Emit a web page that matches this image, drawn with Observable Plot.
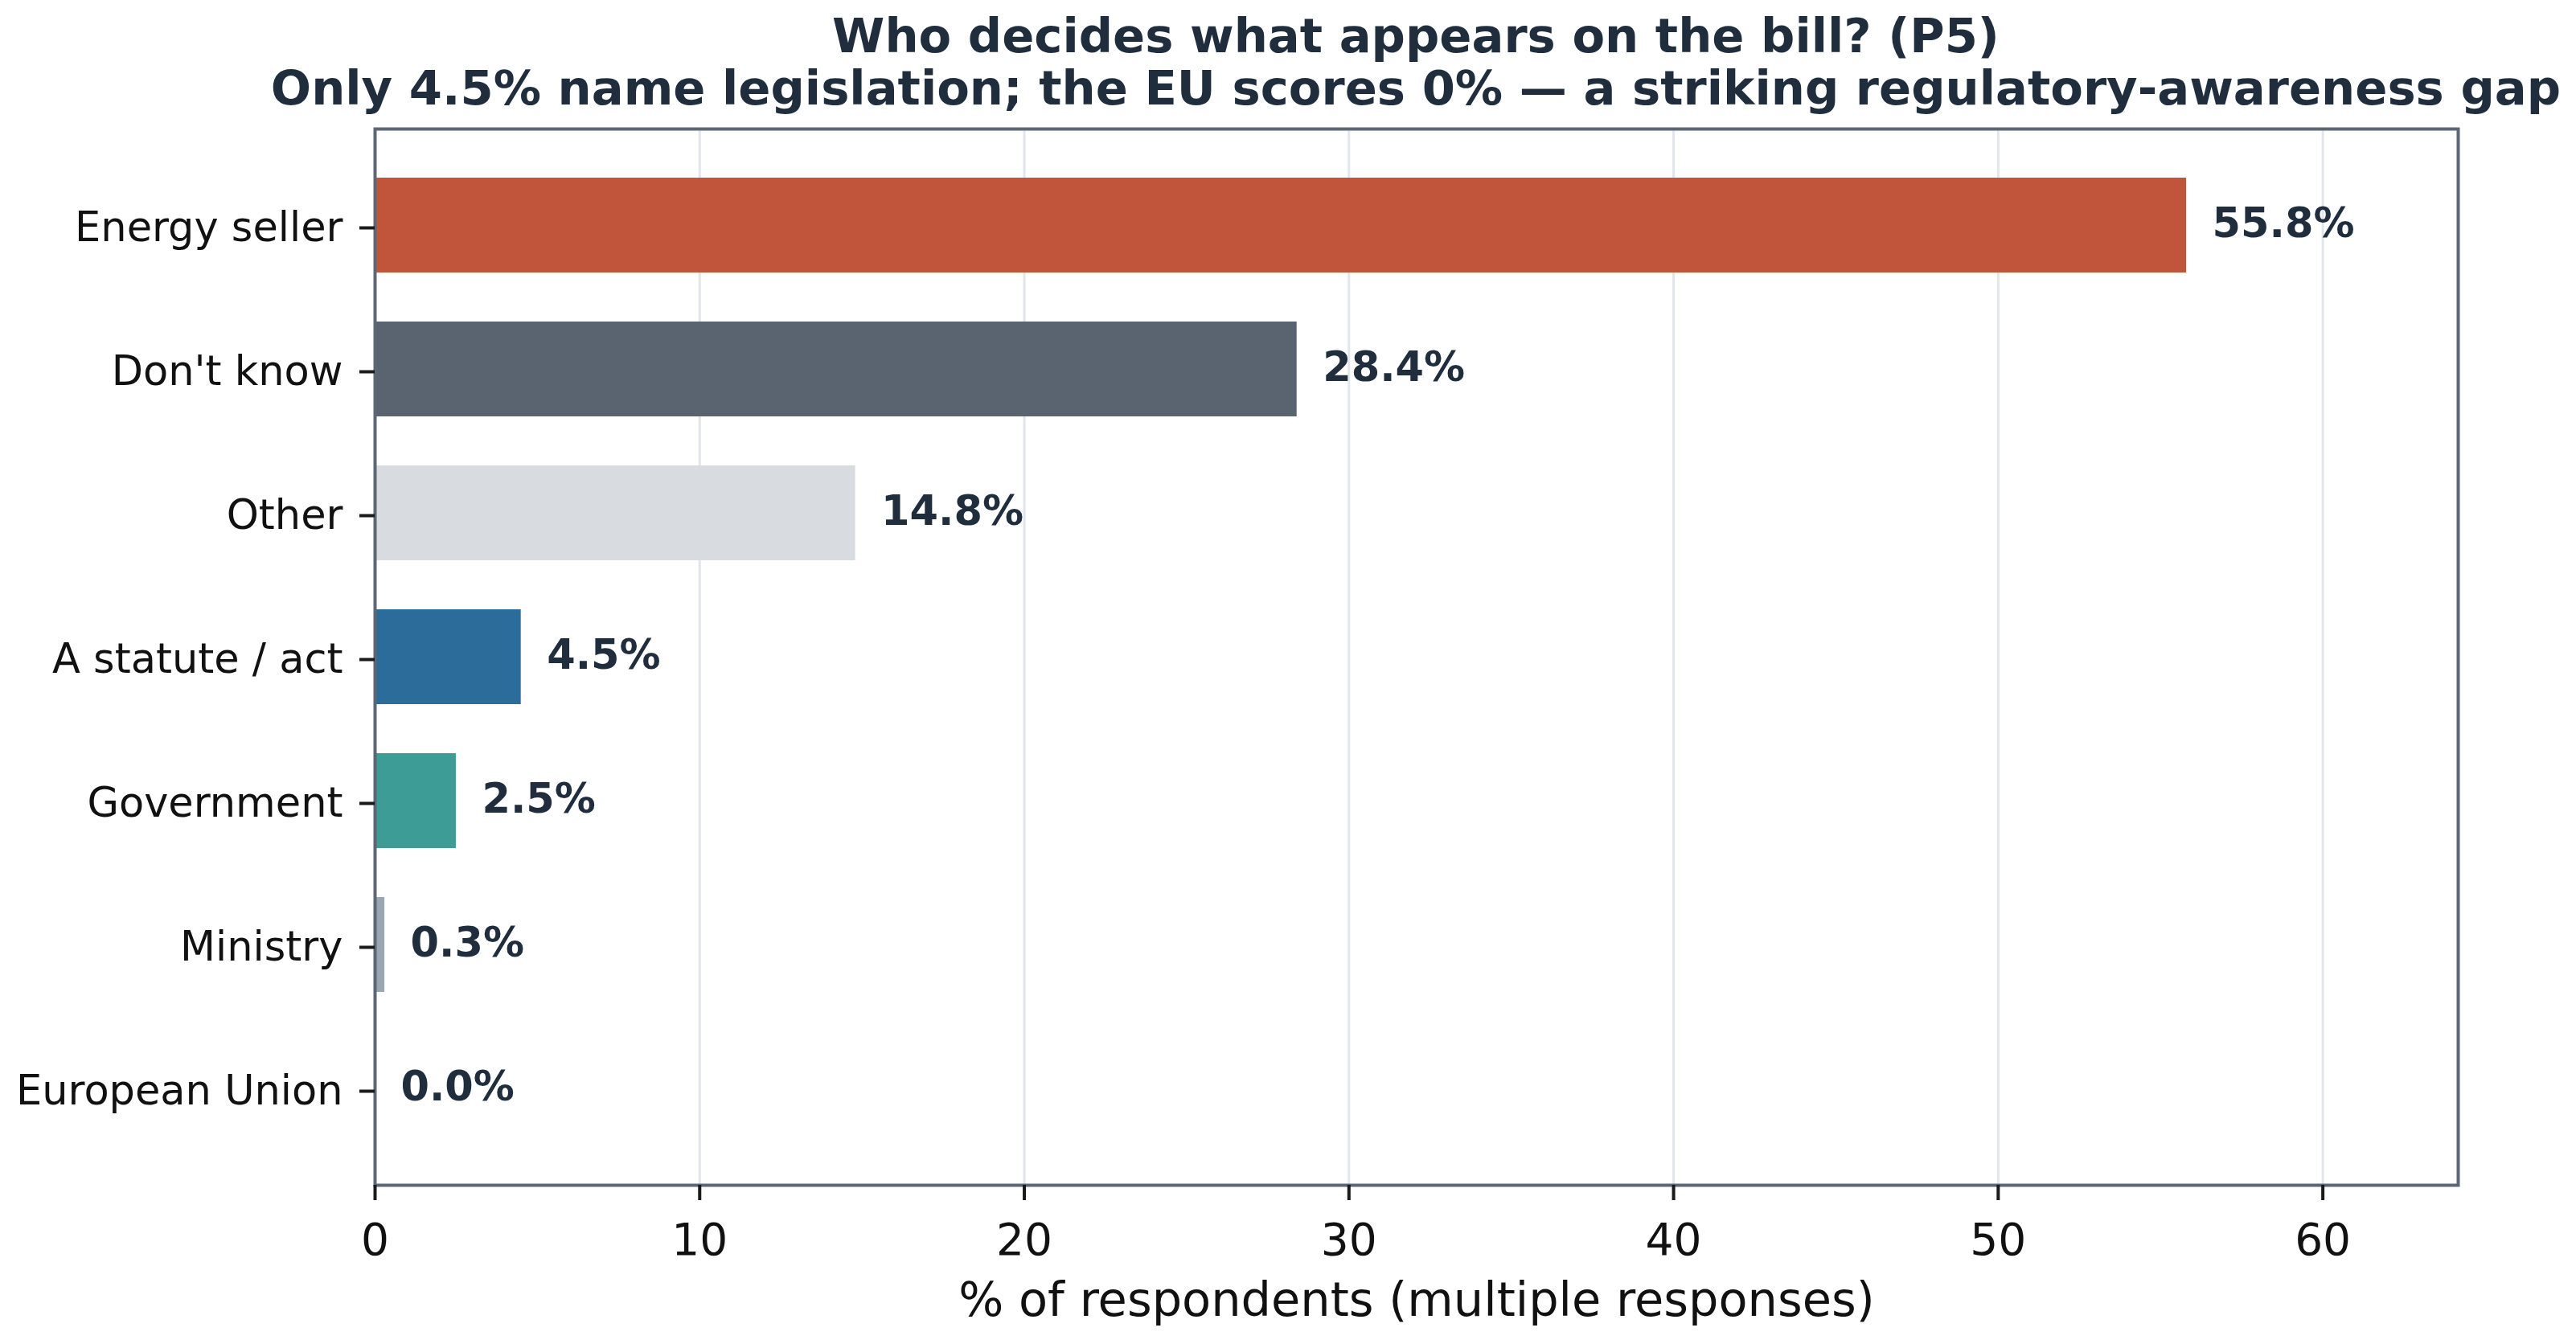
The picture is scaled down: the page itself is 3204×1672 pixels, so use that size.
<!DOCTYPE html>
<html>
<head>
<meta charset="utf-8">
<script src="https://cdn.jsdelivr.net/npm/d3@7"></script>
<script src="https://cdn.jsdelivr.net/npm/@observablehq/plot@0.6"></script>
<style>
  html, body { margin: 0; padding: 0; background: #ffffff; overflow: hidden; }
  #wrap { position: relative; width: 3204px; height: 1672px; }
  #title {
    position: absolute; top: 12px; left: 1761px; transform: translateX(-50%);
    font-family: "DejaVu Sans", sans-serif; font-weight: bold; font-size: 59.2px;
    line-height: 65px; color: #1f2d3d; text-align: center; white-space: nowrap; z-index: 2;
  }
  #chart { position: absolute; top: 140px; left: 0; }
  #chart svg { background: transparent; }
</style>
</head>
<body>
<div id="wrap">
  <div id="title">Who decides what appears on the bill? (P5)<br>Only 4.5% name legislation; the EU scores 0% — a striking regulatory-awareness gap</div>
  <div id="chart"></div>
</div>
<script>
const categories = ["Energy seller", "Don't know", "Other", "A statute / act", "Government", "Ministry", "European Union"];
const values = [55.8, 28.4, 14.8, 4.5, 2.5, 0.3, 0.0];
const colors = ["#c0553b", "#5a6470", "#d8dbe0", "#2b6c9a", "#3e9c97", "#9aa6b2", "#9aa6b2"];
const xTicks = [0, 10, 20, 30, 40, 50, 60];
const xLabel = "% of respondents (multiple responses)";

const data = categories.map((c, i) => ({category: c, value: values[i]}));
const xMax = d3.max(values) * 1.15;

const chart = Plot.plot({
  width: 3204,
  height: 1532,
  marginLeft: 466,
  marginRight: 147,
  marginTop: 20,
  marginBottom: 198,
  style: {fontFamily: "DejaVu Sans, sans-serif", background: "transparent", overflow: "visible"},
  x: {domain: [0, xMax]},
  y: {domain: categories, paddingInner: 0.34, paddingOuter: 0.34},
  color: {domain: categories, range: colors},
  marks: [
    Plot.gridX(xTicks, {stroke: "#e2e6eb", strokeOpacity: 1, strokeWidth: 3}),
    Plot.barX(data, {x: "value", y: "category", fill: "category"}),
    Plot.text(data, {
      x: "value", y: "category",
      text: d => d.value.toFixed(1) + "%",
      dx: 32, dy: -2, textAnchor: "start", lineAnchor: "middle",
      fontSize: 51, fontWeight: "bold", fill: "#1f2d3d"
    }),
    Plot.frame({stroke: "#5d6774", strokeWidth: 4}),
    Plot.axisX(xTicks, {
      tickSize: 19, tickPadding: 28, fontSize: 55, strokeWidth: 4,
      stroke: "#1a1a1a", fill: "#111", label: null, tickFormat: d => String(d)
    }),
    Plot.axisY({
      tickSize: 19, tickPadding: 21, fontSize: 51, strokeWidth: 4,
      stroke: "#1a1a1a", fill: "#111", label: null, dy: 3
    }),
    Plot.text([xLabel], {
      text: d => d, frameAnchor: "bottom", dy: 144, lineAnchor: "middle",
      fontSize: 59, fill: "#111"
    })
  ]
});
document.getElementById("chart").appendChild(chart);
</script>
</body>
</html>
